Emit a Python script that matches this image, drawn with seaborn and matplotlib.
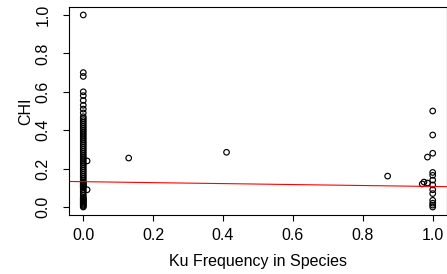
import numpy as np
import pandas as pd
import matplotlib
matplotlib.use("Agg")
import matplotlib.pyplot as plt
import seaborn as sns

# values
chi_at_zero = [1.0, 0.70, 0.68, 0.60, 0.58, 0.555, 0.53, 0.51, 0.49, 0.47, 0.46,
               0.45, 0.44, 0.43, 0.42, 0.41, 0.40, 0.39, 0.38, 0.37, 0.36, 0.35,
               0.34, 0.33, 0.32, 0.31, 0.30, 0.29, 0.28, 0.27, 0.26, 0.25, 0.24,
               0.23, 0.22, 0.21, 0.20, 0.19, 0.18, 0.17, 0.16, 0.15, 0.14, 0.13,
               0.12, 0.11, 0.10, 0.09, 0.08, 0.07, 0.06, 0.05, 0.04, 0.03, 0.02,
               0.01, 0.0, 0.005, 0.015, 0.025, 0.035, 0.045, 0.105, 0.115, 0.125]
ku_other = [0.011, 0.011, 0.13, 0.41, 0.871,
            1.0, 1.0, 1.0, 1.0, 1.0, 1.0, 1.0, 1.0, 1.0, 1.0, 1.0, 1.0, 1.0,
            0.985, 0.975, 0.985, 0.97]
chi_other = [0.24, 0.09, 0.255, 0.285, 0.161,
             0.50, 0.375, 0.28, 0.18, 0.165, 0.14, 0.115, 0.09, 0.07, 0.035, 0.02, 0.01, 0.0,
             0.26, 0.13, 0.125, 0.12]

# fitted line (intercept, slope) as seen on the plot
fit_intercept = 0.132
fit_slope = -0.025

ticks = [0.0, 0.2, 0.4, 0.6, 0.8, 1.0]
tick_labels = ["0.0", "0.2", "0.4", "0.6", "0.8", "1.0"]

df = pd.DataFrame({
    "ku": [0.0] * len(chi_at_zero) + ku_other,
    "chi": chi_at_zero + chi_other,
})

sns.set_style("ticks")
plt.rcParams["font.family"] = ["Liberation Sans", "DejaVu Sans"]
plt.rcParams["text.color"] = "black"
plt.rcParams["axes.labelcolor"] = "black"
plt.rcParams["xtick.color"] = "black"
plt.rcParams["ytick.color"] = "black"

fig = plt.figure(figsize=(4.47, 2.74), dpi=100)
ax = fig.add_axes([0.155, 0.2164, 0.8443, 0.757])

sns.scatterplot(data=df, x="ku", y="chi", ax=ax, marker="o", s=16,
                facecolors="none", edgecolor="black", linewidth=0.85)
ax.axline((0, fit_intercept), slope=fit_slope, color="red", lw=0.8)

ax.set_xlim(-0.04, 1.04)
ax.set_ylim(-0.04, 1.04)
ax.set_xticks(ticks)
ax.set_xticklabels(tick_labels)
ax.set_yticks(ticks)
ax.set_yticklabels(tick_labels, rotation=90, va="center")

for s in ax.spines.values():
    s.set_visible(True)
    s.set_color("black")
    s.set_linewidth(0.8)

ax.tick_params(axis="x", length=4.3, width=0.8, colors="black", pad=5, labelsize=11.5)
ax.tick_params(axis="y", length=4.3, width=0.8, colors="black", pad=9, labelsize=11.5)

ax.set_xlabel("Ku Frequency in Species", fontsize=11.5, color="black")
ax.set_ylabel("CHI", fontsize=11.5, color="black")
ax.xaxis.set_label_coords(0.5, -0.19)
ax.yaxis.set_label_coords(-0.096, 0.5)

fig.savefig("out.png", dpi=100)
